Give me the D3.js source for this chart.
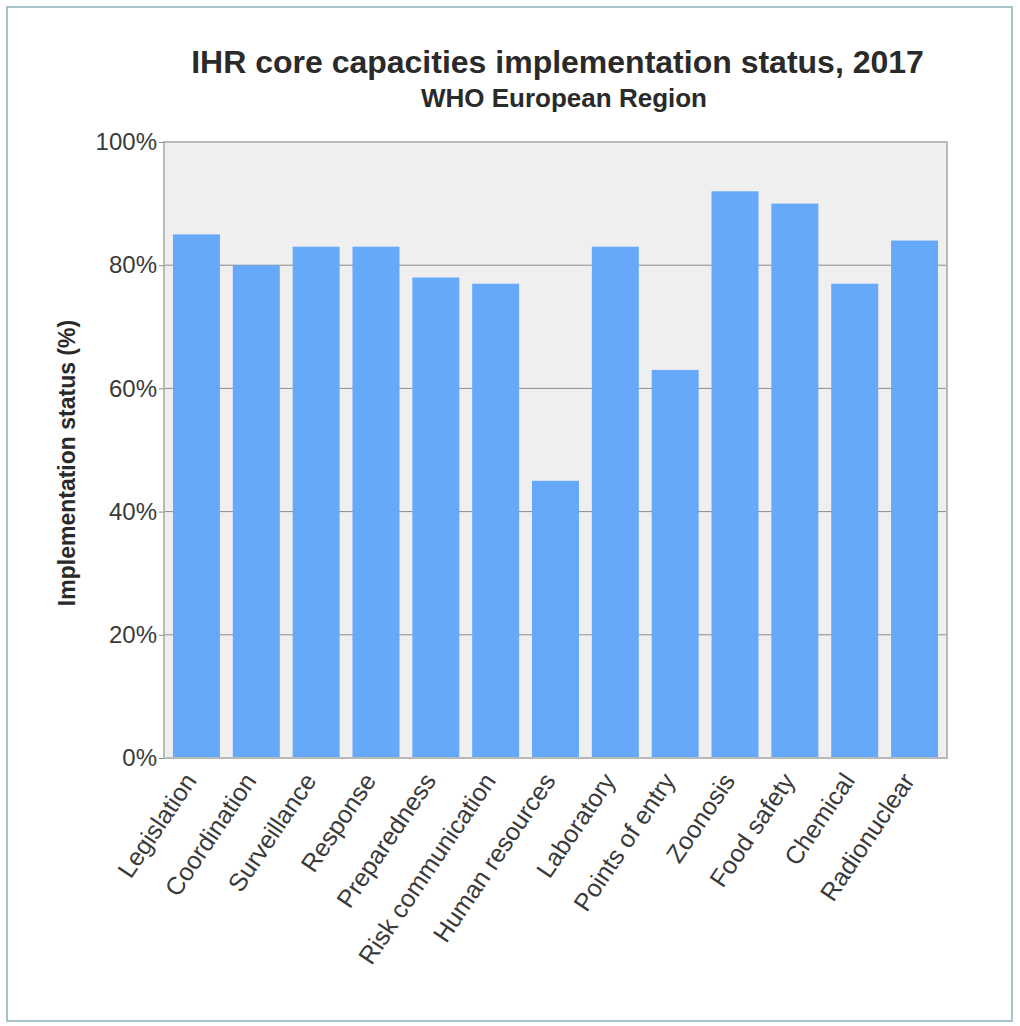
<!DOCTYPE html>
<html>

<head>
	<meta charset="utf-8">
	<style type="text/css">
		body {
			margin: 0;
			background-color: white;
			font-family: "Liberation Sans", Arial, sans-serif;
		}
	</style>
	<title>IHR core capacities</title>
</head>

<body>
	<div id="chart"></div>
	<script src="https://cdn.jsdelivr.net/npm/d3@7"></script>
	<script>
		// data
		var categories = ["Legislation", "Coordination", "Surveillance", "Response", "Preparedness", "Risk communication",
			"Human resources", "Laboratory", "Points of entry", "Zoonosis", "Food safety", "Chemical", "Radionuclear"];
		var values = [85, 80, 83, 83, 78, 77, 45, 83, 63, 92, 90, 77, 84];
		var yTicks = [0, 20, 40, 60, 80, 100];
		var gridTicks = [20, 40, 60, 80];

		const width = 1020,
			height = 1026,
			plotLeft = 164,
			plotRight = 947,
			plotTop = 142,
			plotBottom = 758,
			barColor = "#66a9fa";

		const svg = d3.select("#chart").append("svg")
			.attr("width", width)
			.attr("height", height);

		// outer frame
		svg.append("rect")
			.attr("x", 7)
			.attr("y", 7)
			.attr("width", 1005)
			.attr("height", 1014)
			.style("fill", "white")
			.style("stroke", "#a9c3cb")
			.style("stroke-width", 2);

		var x = d3.scaleBand()
			.domain(categories)
			.range([plotLeft, plotRight])
			.paddingInner(0.215)
			.paddingOuter(0.15);

		var y = d3.scaleLinear()
			.domain([0, 100])
			.range([plotBottom, plotTop]);

		// plot background
		svg.append("rect")
			.attr("x", plotLeft)
			.attr("y", plotTop)
			.attr("width", plotRight - plotLeft)
			.attr("height", plotBottom - plotTop)
			.style("fill", "#efefef");

		svg.append("g").selectAll("line")
			.data(gridTicks)
			.enter().append("line")
			.attr("x1", plotLeft)
			.attr("x2", plotRight)
			.attr("y1", d => y(d))
			.attr("y2", d => y(d))
			.style("stroke", "#8c8c8c")
			.style("stroke-width", 1);

		svg.append("g").selectAll("rect")
			.data(values)
			.enter().append("rect")
			.attr("x", (d, i) => x(categories[i]))
			.attr("y", d => y(d))
			.attr("width", x.bandwidth())
			.attr("height", d => plotBottom - y(d))
			.style("fill", barColor);

		// plot border
		svg.append("rect")
			.attr("x", plotLeft)
			.attr("y", plotTop)
			.attr("width", plotRight - plotLeft)
			.attr("height", plotBottom - plotTop)
			.style("fill", "none")
			.style("stroke", "#b9b9b9")
			.style("stroke-width", 2);

		// y axis
		var yAxis = svg.append("g")
			.attr("transform", "translate(" + plotLeft + ",0)")
			.call(d3.axisLeft(y).tickValues(yTicks).tickFormat(d => d + "%").tickSize(5).tickPadding(2));
		yAxis.select(".domain").remove();
		yAxis.selectAll("line").style("stroke", "#8c8c8c");
		yAxis.selectAll("text")
			.style("font-family", "'Liberation Sans', Arial, sans-serif")
			.style("font-size", "24px")
			.style("fill", "#3a3a3a");

		// x axis, rotated labels
		var xAxis = svg.append("g")
			.attr("transform", "translate(0," + plotBottom + ")")
			.call(d3.axisBottom(x).tickSize(0).tickPadding(0));
		xAxis.select(".domain").remove();
		xAxis.selectAll("text")
			.attr("x", 0)
			.attr("y", 0)
			.attr("dy", "0.34em")
			.attr("text-anchor", "end")
			.attr("transform", "translate(-6,18) rotate(-56)")
			.style("font-family", "'Liberation Sans', Arial, sans-serif")
			.style("font-size", "25px")
			.style("fill", "#3a3a3a");

		svg.append("text")
			.attr("transform", "translate(75,463) rotate(-90)")
			.attr("text-anchor", "middle")
			.style("font-size", "23px")
			.style("font-weight", "bold")
			.style("fill", "#2a2a2a")
			.text("Implementation status (%)");

		// titles
		svg.append("text")
			.attr("x", (plotLeft + plotRight) / 2 + 2)
			.attr("y", 73)
			.attr("text-anchor", "middle")
			.style("font-size", "32px")
			.style("font-weight", "bold")
			.style("fill", "#2a2a2a")
			.text("IHR core capacities implementation status, 2017");

		svg.append("text")
			.attr("x", 564)
			.attr("y", 107)
			.attr("text-anchor", "middle")
			.style("font-size", "26px")
			.style("font-weight", "bold")
			.style("fill", "#2a2a2a")
			.text("WHO European Region");
	</script>
</body>

</html>
